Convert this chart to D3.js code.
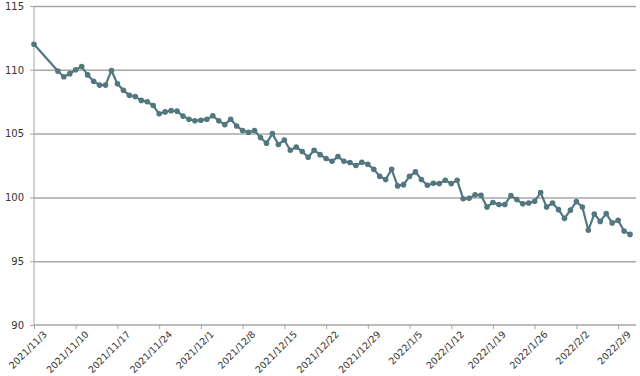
<!DOCTYPE html>
<html>
<head>
<meta charset="utf-8">
<script src="https://cdn.jsdelivr.net/npm/d3@7"></script>
<style>
  body { margin: 0; background: #fff; }
  .axis text { font-family: "DejaVu Sans", sans-serif; font-size: 10px; fill: #333; }
  .x.axis text { font-size: 9.5px; }
  .axis path, .axis line { stroke: #a6a6a6; }
  .grid line { stroke: #a6a6a6; stroke-width: 1.5; }
  .grid path { display: none; }
</style>
</head>
<body>
<div id="chart"></div>
<script>
// values
var dates = [
    "2021/11/3",
    "2021/11/7", "2021/11/8", "2021/11/9", "2021/11/10", "2021/11/11", "2021/11/12", "2021/11/13", "2021/11/14",
    "2021/11/15", "2021/11/16", "2021/11/17", "2021/11/18", "2021/11/19", "2021/11/20", "2021/11/21", "2021/11/22",
    "2021/11/23", "2021/11/24", "2021/11/25", "2021/11/26", "2021/11/27", "2021/11/28", "2021/11/29", "2021/11/30",
    "2021/12/1", "2021/12/2", "2021/12/3", "2021/12/4", "2021/12/5", "2021/12/6", "2021/12/7", "2021/12/8",
    "2021/12/9", "2021/12/10", "2021/12/11", "2021/12/12", "2021/12/13", "2021/12/14", "2021/12/15", "2021/12/16",
    "2021/12/17", "2021/12/18", "2021/12/19", "2021/12/20", "2021/12/21", "2021/12/22", "2021/12/23", "2021/12/24",
    "2021/12/25", "2021/12/26", "2021/12/27", "2021/12/28", "2021/12/29", "2021/12/30", "2021/12/31",
    "2022/1/1", "2022/1/2", "2022/1/3", "2022/1/4", "2022/1/5", "2022/1/6", "2022/1/7", "2022/1/8",
    "2022/1/9", "2022/1/10", "2022/1/11", "2022/1/12", "2022/1/13", "2022/1/14", "2022/1/15", "2022/1/16",
    "2022/1/17", "2022/1/18", "2022/1/19", "2022/1/20", "2022/1/21", "2022/1/22", "2022/1/23", "2022/1/24",
    "2022/1/25", "2022/1/26", "2022/1/27", "2022/1/28", "2022/1/29", "2022/1/30", "2022/1/31",
    "2022/2/1", "2022/2/2", "2022/2/3", "2022/2/4", "2022/2/5", "2022/2/6", "2022/2/7", "2022/2/8",
    "2022/2/9", "2022/2/10", "2022/2/11"
];
var values = [
    112.0,
    109.9, 109.45, 109.7, 110.0, 110.25, 109.6, 109.1, 108.8,
    108.8, 109.95, 108.9, 108.4, 108.0, 107.9, 107.6, 107.5,
    107.2, 106.55, 106.7, 106.8, 106.76, 106.37, 106.13, 106.0,
    106.05, 106.13, 106.4, 106.0, 105.7, 106.13, 105.6, 105.24,
    105.1, 105.24, 104.7, 104.25, 105.0, 104.15, 104.5, 103.7,
    103.95, 103.6, 103.15, 103.7, 103.35, 103.05, 102.83, 103.2,
    102.83, 102.73, 102.5, 102.75, 102.6, 102.2, 101.65,
    101.4, 102.2, 100.9, 101.0, 101.65, 102.0, 101.4, 100.95,
    101.1, 101.08, 101.34, 101.08, 101.34, 99.9, 99.93, 100.2,
    100.16, 99.25, 99.6, 99.44, 99.44, 100.14, 99.83, 99.5,
    99.56, 99.7, 100.38, 99.25, 99.56, 99.04, 98.36,
    99.0, 99.67, 99.25, 97.42, 98.7, 98.12, 98.73, 98.0,
    98.2, 97.36, 97.1
];
var xTicks = ["2021/11/3", "2021/11/10", "2021/11/17", "2021/11/24", "2021/12/1", "2021/12/8", "2021/12/15",
    "2021/12/22", "2021/12/29", "2022/1/5", "2022/1/12", "2022/1/19", "2022/1/26", "2022/2/2", "2022/2/9"];
var yTicks = [90, 95, 100, 105, 110, 115];

var w = 640;
var h = 376;
var margin = { top: 6, right: 4, bottom: 51, left: 34 };
var innerW = w - margin.left - margin.right;
var innerH = h - margin.top - margin.bottom;
var lineColor = "#52777f";

var parseDate = d3.timeParse("%Y/%m/%d");
var formatDate = function (d) {
    return d.getFullYear() + "/" + (d.getMonth() + 1) + "/" + d.getDate();
};

var data = dates.map(function (d, i) {
    return { date: parseDate(d), value: values[i] };
});

var svg = d3.select("#chart")
    .append("svg")
    .attr("width", w)
    .attr("height", h)
    .append("g")
    .attr("transform", "translate(" + margin.left + "," + margin.top + ")");

var xScale = d3.scaleTime()
    .domain([parseDate("2021/11/3"), parseDate("2022/2/12")])
    .range([0, innerW]);

var yScale = d3.scaleLinear()
    .domain([90, 115])
    .range([innerH, 0]);

// gridlines
svg.append("g")
    .attr("class", "grid")
    .call(d3.axisLeft(yScale).tickValues(yTicks.slice(1)).tickSize(-innerW).tickFormat(""));

// y axis
var yAxis = svg.append("g")
    .attr("class", "axis")
    .call(d3.axisLeft(yScale).tickValues(yTicks).tickSize(4).tickPadding(6));
yAxis.select(".domain").attr("d", "M0," + innerH + "V0");

// x axis
var xAxis = svg.append("g")
    .attr("class", "x axis")
    .attr("transform", "translate(0," + innerH + ")")
    .call(d3.axisBottom(xScale)
        .tickValues(xTicks.map(parseDate))
        .tickSize(4)
        .tickFormat(formatDate));
xAxis.select(".domain").attr("d", "M0,0H" + innerW).style("stroke-width", 1.5);
xAxis.selectAll("text")
    .attr("text-anchor", "end")
    .attr("dx", "0.3em")
    .attr("dy", "0.9em")
    .attr("transform", "translate(0,1) rotate(-45)");

// line
var line = d3.line()
    .x(function (d) { return xScale(d.date); })
    .y(function (d) { return yScale(d.value); });

svg.append("path")
    .datum(data)
    .attr("fill", "none")
    .attr("stroke", lineColor)
    .attr("stroke-width", 2.2)
    .attr("stroke-linejoin", "round")
    .attr("d", line);

svg.selectAll("circle")
    .data(data)
    .enter()
    .append("circle")
    .attr("cx", function (d) { return xScale(d.date); })
    .attr("cy", function (d) { return yScale(d.value); })
    .attr("r", 2.8)
    .attr("fill", lineColor);
</script>
</body>
</html>
